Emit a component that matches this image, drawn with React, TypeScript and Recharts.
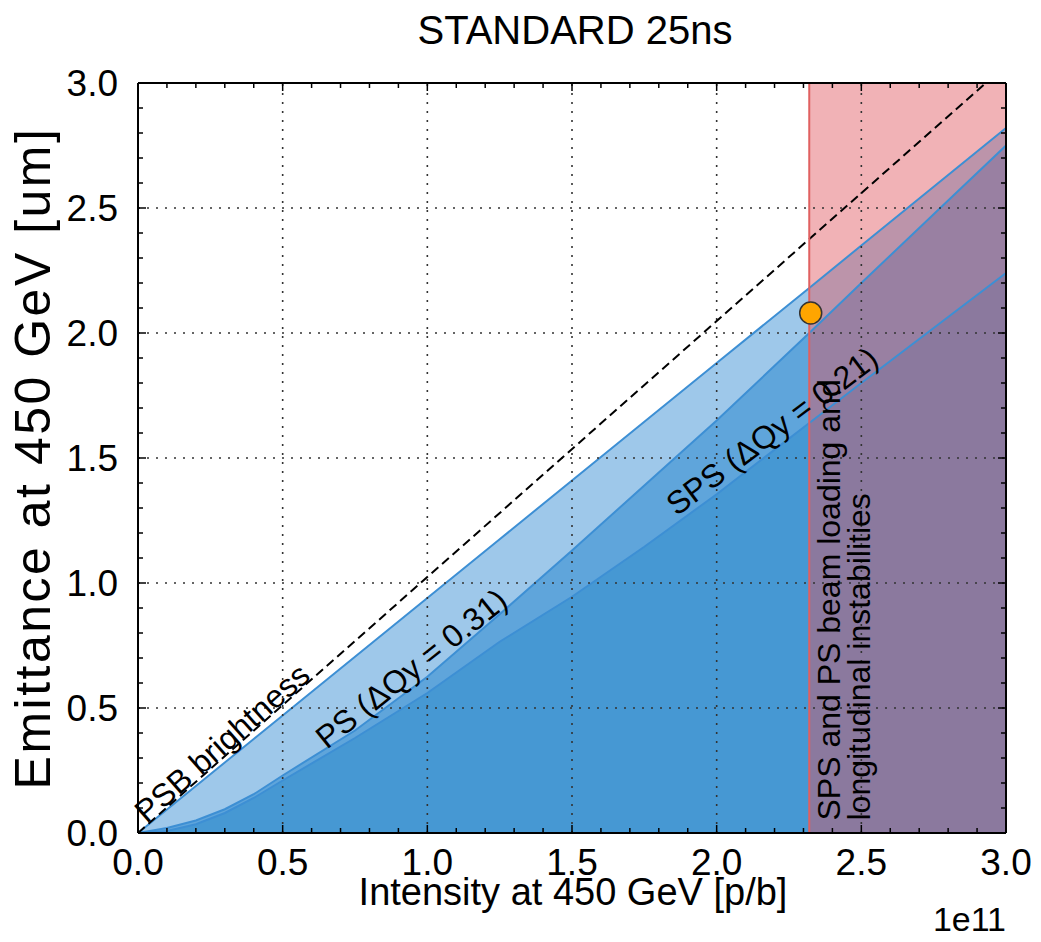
import React from 'react';
import {
  ComposedChart,
  Area,
  Line,
  XAxis,
  YAxis,
  ReferenceArea,
  ReferenceLine,
  ReferenceDot,
} from 'recharts';

// ---------- data ----------
const intensity = [0, 0.1, 0.2, 0.3, 0.4, 0.5, 0.75, 1.0, 1.25, 1.5, 1.75, 2.0, 2.32, 2.5, 2.75, 3.0];
const upperLimit = [0, 0.094, 0.188, 0.282, 0.376, 0.47, 0.705, 0.94, 1.175, 1.41, 1.645, 1.88, 2.18, 2.35, 2.585, 2.82];
const psLimit = [0, 0.02, 0.05, 0.095, 0.155, 0.23, 0.41, 0.625, 0.875, 1.13, 1.39, 1.65, 2.0, 2.2, 2.475, 2.75];
const spsLimit = [0, 0.008, 0.035, 0.08, 0.14, 0.21, 0.38, 0.56, 0.765, 0.945, 1.145, 1.355, 1.64, 1.8, 2.02, 2.24];

const brightnessX = [0, 2.93];
const brightnessY = [0, 3.0];

const instabilityStart = 2.32;
const operatingPoint = { x: 2.325, y: 2.08 };

const majorTicks = [0, 0.5, 1.0, 1.5, 2.0, 2.5, 3.0];
const minorTicks = [
  0, 0.1, 0.2, 0.3, 0.4, 0.5, 0.6, 0.7, 0.8, 0.9, 1.0, 1.1, 1.2, 1.3, 1.4, 1.5,
  1.6, 1.7, 1.8, 1.9, 2.0, 2.1, 2.2, 2.3, 2.4, 2.5, 2.6, 2.7, 2.8, 2.9, 3.0,
];
const gridLines = [0.5, 1.0, 1.5, 2.0, 2.5];

const title = 'STANDARD 25ns';
const xLabel = 'Intensity at 450 GeV [p/b]';
const yLabel = 'Emittance at 450 GeV [um]';
const xScaleNote = '1e11';

const data = intensity.map((x, i) => ({
  x,
  upper: upperLimit[i],
  ps: psLimit[i],
  sps: spsLimit[i],
}));
const brightnessData = brightnessX.map((x, i) => ({ x, b: brightnessY[i] }));

// ---------- styles ----------
const FONT = '"Liberation Sans", Arial, Helvetica, sans-serif';
const LIGHT = '#9ec8ea';
const MEDIUM = '#5fa5db';
const DARK = '#4698d3';
const LINE = '#3d8fd4';
const RED = '#e0545d';

const isMajor = (v: number) => majorTicks.some((m) => Math.abs(m - v) < 1e-6);

const BottomTick = (props: any) => {
  const { x, y, payload } = props;
  const v = payload.value;
  const major = isMajor(v);
  return (
    <g>
      <line x1={x} x2={x} y1={y} y2={y - (major ? 8 : 5)} stroke="#000" strokeWidth={1.5} />
      {major && (
        <text x={x} y={y + 42} textAnchor="middle" fontSize={37} fontFamily={FONT} fill="#000">
          {v.toFixed(1)}
        </text>
      )}
    </g>
  );
};
const TopTick = (props: any) => {
  const { x, y, payload } = props;
  const major = isMajor(payload.value);
  return <line x1={x} x2={x} y1={y} y2={y + (major ? 8 : 5)} stroke="#000" strokeWidth={1.5} />;
};
const LeftTick = (props: any) => {
  const { x, y, payload } = props;
  const v = payload.value;
  const major = isMajor(v);
  return (
    <g>
      <line x1={x} x2={x + (major ? 8 : 5)} y1={y} y2={y} stroke="#000" strokeWidth={1.5} />
      {major && (
        <text x={x - 20} y={y + 13} textAnchor="end" fontSize={37} fontFamily={FONT} fill="#000">
          {v.toFixed(1)}
        </text>
      )}
    </g>
  );
};
const RightTick = (props: any) => {
  const { x, y, payload } = props;
  const major = isMajor(payload.value);
  return <line x1={x} x2={x - (major ? 8 : 5)} y1={y} y2={y} stroke="#000" strokeWidth={1.5} />;
};

const rotatedLabel = (text: string, angle: number, fontSize: number) => (props: any) => {
  const vb = props.viewBox || {};
  const cx = (vb.x || 0) + (vb.width || 0) / 2;
  const cy = (vb.y || 0) + (vb.height || 0) / 2;
  return (
    <text
      transform={`translate(${cx},${cy}) rotate(${-angle})`}
      x={0}
      y={0}
      fontSize={fontSize}
      fontFamily={FONT}
      fill="#000"
      textAnchor="start"
    >
      {text}
    </text>
  );
};

const verticalLabel = (lines: string[], fontSize: number, offsets: number[]) => (props: any) => {
  const vb = props.viewBox || {};
  const cx = (vb.x || 0) + (vb.width || 0) / 2;
  const cy = (vb.y || 0) + (vb.height || 0) / 2;
  return (
    <g>
      {lines.map((t, i) => (
        <text
          key={i}
          transform={`translate(${cx + offsets[i]},${cy}) rotate(-90)`}
          x={0}
          y={0}
          fontSize={fontSize}
          fontFamily={FONT}
          fill="#000"
          textAnchor="start"
        >
          {t}
        </text>
      ))}
    </g>
  );
};

const axisLineStyle = { stroke: '#000', strokeWidth: 2 };

export default function App() {
  return (
    <div style={{ position: 'absolute', left: 0, top: 0, width: 1041, height: 942, background: '#fff' }}>
      <ComposedChart
        width={1041}
        height={942}
        data={data}
        margin={{ top: 82, right: 34, bottom: 108, left: 137 }}
      >
        <XAxis
          xAxisId="b"
          dataKey="x"
          type="number"
          domain={[0, 3]}
          allowDataOverflow
          ticks={minorTicks}
          interval={0}
          height={1}
          tickSize={0}
          tickMargin={0}
          tickLine={false}
          tick={BottomTick}
          axisLine={axisLineStyle}
          orientation="bottom"
        />
        <XAxis
          xAxisId="t"
          dataKey="x"
          type="number"
          domain={[0, 3]}
          allowDataOverflow
          ticks={minorTicks}
          interval={0}
          height={1}
          tickSize={0}
          tickMargin={0}
          tickLine={false}
          tick={TopTick}
          axisLine={axisLineStyle}
          orientation="top"
        />
        <YAxis
          yAxisId="l"
          type="number"
          domain={[0, 3]}
          allowDataOverflow
          ticks={minorTicks}
          interval={0}
          width={1}
          tickSize={0}
          tickMargin={0}
          tickLine={false}
          tick={LeftTick}
          axisLine={axisLineStyle}
          orientation="left"
        />
        <YAxis
          yAxisId="r"
          type="number"
          domain={[0, 3]}
          allowDataOverflow
          ticks={minorTicks}
          interval={0}
          width={1}
          tickSize={0}
          tickMargin={0}
          tickLine={false}
          tick={RightTick}
          axisLine={axisLineStyle}
          orientation="right"
        />

        <Area xAxisId="b" yAxisId="l" type="linear" dataKey="upper" fill={LIGHT} fillOpacity={1} stroke="none" isAnimationActive={false} />
        <Area xAxisId="b" yAxisId="l" type="linear" dataKey="ps" fill={MEDIUM} fillOpacity={1} stroke="none" isAnimationActive={false} />
        <Area xAxisId="b" yAxisId="l" type="linear" dataKey="sps" fill={DARK} fillOpacity={1} stroke="none" isAnimationActive={false} />

        <ReferenceArea
          xAxisId="b"
          yAxisId="l"
          x1={instabilityStart}
          x2={3.0}
          y1={0}
          y2={3.0}
          fill={RED}
          fillOpacity={0.45}
          stroke="none"
        />

        <Line xAxisId="b" yAxisId="l" type="linear" dataKey="upper" stroke={LINE} strokeWidth={2} dot={false} isAnimationActive={false} />
        <Line xAxisId="b" yAxisId="l" type="linear" dataKey="ps" stroke={LINE} strokeWidth={2} dot={false} isAnimationActive={false} />
        <Line xAxisId="b" yAxisId="l" type="linear" dataKey="sps" stroke={LINE} strokeWidth={2} dot={false} isAnimationActive={false} />

        {gridLines.map((g) => (
          <ReferenceLine key={'gx' + g} xAxisId="b" yAxisId="l" x={g} stroke="#333" strokeWidth={1.6} strokeDasharray="2 7" />
        ))}
        {gridLines.map((g) => (
          <ReferenceLine key={'gy' + g} xAxisId="b" yAxisId="l" y={g} stroke="#333" strokeWidth={1.6} strokeDasharray="2 7" />
        ))}

        <Line
          xAxisId="b"
          yAxisId="l"
          data={brightnessData}
          type="linear"
          dataKey="b"
          stroke="#000"
          strokeWidth={2}
          strokeDasharray="9 5"
          dot={false}
          isAnimationActive={false}
        />

        <ReferenceLine xAxisId="b" yAxisId="l" x={instabilityStart} stroke="#e06060" strokeWidth={2} />

        <ReferenceDot
          xAxisId="b"
          yAxisId="l"
          x={operatingPoint.x}
          y={operatingPoint.y}
          r={11}
          fill="#ffa500"
          stroke="#333"
          strokeWidth={1.5}
        />

        <ReferenceDot xAxisId="b" yAxisId="l" x={0.03} y={0.035} r={0} fill="none" stroke="none" label={rotatedLabel('PSB brightness', 41.5, 32)} />
        <ReferenceDot xAxisId="b" yAxisId="l" x={0.652} y={0.332} r={0} fill="none" stroke="none" label={rotatedLabel('PS (ΔQy = 0.31)', 38.5, 32)} />
        <ReferenceDot xAxisId="b" yAxisId="l" x={1.862} y={1.265} r={0} fill="none" stroke="none" label={rotatedLabel('SPS (ΔQy = 0.21)', 37, 32)} />
        <ReferenceDot
          xAxisId="b"
          yAxisId="l"
          x={instabilityStart}
          y={0.05}
          r={0}
          fill="none"
          stroke="none"
          label={verticalLabel(['SPS and PS beam loading and', 'longitudinal instabilities'], 32, [31, 61])}
        />
      </ComposedChart>
      <svg
        width={1041}
        height={942}
        style={{ position: 'absolute', left: 0, top: 0, pointerEvents: 'none' }}
      >
        <text x={575} y={44} textAnchor="middle" fontSize={40} fontFamily={FONT} fill="#000">
          {title}
        </text>
        <text x={573} y={905} textAnchor="middle" fontSize={38} fontFamily={FONT} fill="#000">
          {xLabel}
        </text>
        <text x={1006} y={931} textAnchor="end" fontSize={34} fontFamily={FONT} fill="#000">
          {xScaleNote}
        </text>
        <text
          transform="translate(50,458) rotate(-90)"
          textAnchor="middle"
          fontSize={50}
          letterSpacing={2.5}
          fontFamily={FONT}
          fill="#000"
        >
          {yLabel}
        </text>
      </svg>
    </div>
  );
}
